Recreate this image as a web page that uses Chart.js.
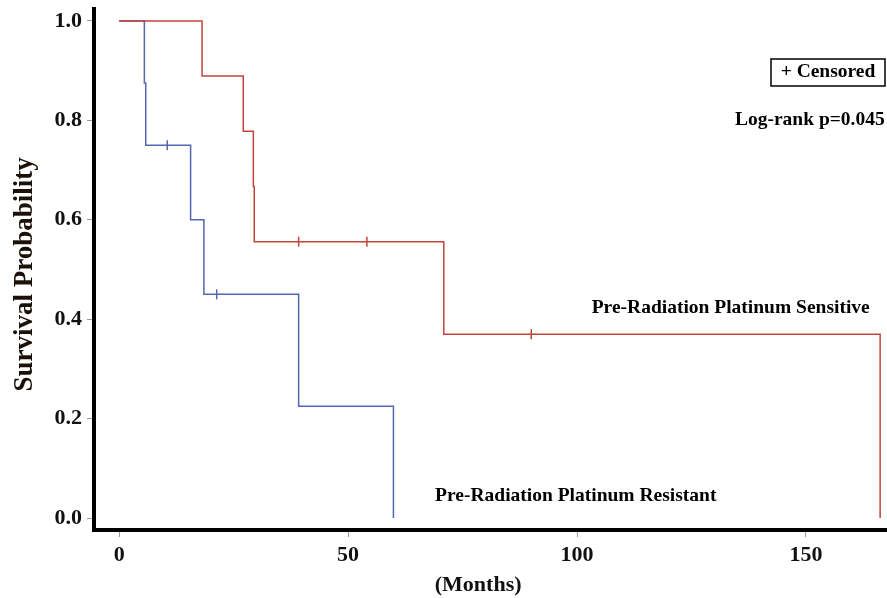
<!DOCTYPE html>
<html>
<head>
<meta charset="utf-8">
<script src="https://cdn.jsdelivr.net/npm/chart.js@4.4.1/dist/chart.umd.min.js"></script>
<style>
  html, body { margin: 0; padding: 0; background: #fff; }
  #wrap { width: 887px; height: 598px; }
</style>
</head>
<body>
<div id="wrap"><canvas id="km" width="887" height="598"></canvas></div>
<script>
// Kaplan-Meier curves (months, survival)
const sensTimes = [0, 18.1, 27.1, 29.3, 29.5, 70.9, 166.2];
const sensSurv = [1, 0.889, 0.778, 0.667, 0.556, 0.370, 0];
const sensCensTimes = [39.2, 54.1, 90.0];
const sensCensSurv = [0.556, 0.556, 0.370];

const resTimes = [0, 5.5, 5.8, 15.6, 18.5, 39.2, 59.9];
const resSurv = [1, 0.875, 0.75, 0.6, 0.45, 0.225, 0];
const resCensTimes = [10.5, 21.3];
const resCensSurv = [0.75, 0.45];

const xTicks = [0, 50, 100, 150];
const yTicks = [0, 0.2, 0.4, 0.6, 0.8, 1.0];

const rojo = "#c1443a";
const azul = "#5466b0";
const serif = "'Liberation Serif', 'Times New Roman', serif";

function puntos(xs, ys) {
    return xs.map((x, i) => ({ x: x, y: ys[i] }));
}

// text labels placed in data coordinates
const etiquetas = [
    { text: "Pre-Radiation Platinum Sensitive", x: 103.2, y: 0.412, align: "left" },
    { text: "Pre-Radiation Platinum Resistant", x: 69.0, y: 0.035, align: "left" },
    { text: "Log-rank p=0.045", x: 167.2, y: 0.79, align: "right" }
];

const anotaciones = {
    id: "anotaciones",
    afterDatasetsDraw(chart) {
        const ctx = chart.ctx;
        const sx = chart.scales.x, sy = chart.scales.y;
        ctx.save();
        ctx.fillStyle = "#000";
        ctx.font = "bold 19.5px " + serif;
        ctx.textBaseline = "alphabetic";
        etiquetas.forEach(e => {
            ctx.textAlign = e.align;
            ctx.fillText(e.text, sx.getPixelForValue(e.x), sy.getPixelForValue(e.y));
        });
        // censored key box
        ctx.strokeStyle = "#000";
        ctx.lineWidth = 1.5;
        ctx.strokeRect(771, 59, 114, 27);
        ctx.textAlign = "center";
        ctx.fillText("+ Censored", 828, 77);
        // x axis title, sits a little left of the axis centre
        ctx.fillStyle = "#111";
        ctx.font = "bold 22px " + serif;
        ctx.textBaseline = "middle";
        ctx.fillText("(Months)", sx.getPixelForValue(78.4), 585);
        // y axis title
        ctx.fillStyle = "#1a1208";
        ctx.font = "bold 27px " + serif;
        ctx.translate(25, sy.getPixelForValue(0.49));
        ctx.rotate(-Math.PI / 2);
        ctx.fillText("Survival Probability", 0, 0);
        ctx.restore();
    }
};

new Chart(document.getElementById("km").getContext("2d"), {
    type: "line",
    data: {
        datasets: [
            {
                data: puntos(sensTimes, sensSurv),
                borderColor: rojo,
                borderWidth: 1.5,
                stepped: "before",
                pointRadius: 0,
                fill: false,
                order: 0
            },
            {
                data: puntos(resTimes, resSurv),
                borderColor: azul,
                borderWidth: 1.5,
                stepped: "before",
                pointRadius: 0,
                fill: false,
                order: 1
            },
            {
                data: puntos(sensCensTimes, sensCensSurv),
                showLine: false,
                pointStyle: "line",
                rotation: 90,
                pointRadius: 5,
                borderColor: rojo,
                borderWidth: 1.5,
                order: 0
            },
            {
                data: puntos(resCensTimes, resCensSurv),
                showLine: false,
                pointStyle: "line",
                rotation: 90,
                pointRadius: 5,
                borderColor: azul,
                borderWidth: 1.5,
                order: 1
            }
        ]
    },
    options: {
        responsive: false,
        animation: false,
        layout: { autoPadding: false, padding: { top: 9, right: 0, left: 0, bottom: 0 } },
        plugins: {
            legend: { display: false },
            tooltip: { enabled: false }
        },
        scales: {
            x: {
                type: "linear",
                min: -5.5,
                max: 167.7,
                afterBuildTicks: s => { s.ticks = xTicks.map(v => ({ value: v })); },
                afterFit: s => { s.height = 68; s.paddingLeft = 0; s.paddingRight = 0; },
                border: { display: true, width: 4, color: "#000" },
                grid: { drawOnChartArea: false, drawTicks: true, tickLength: 7, color: "#999", lineWidth: 1 },
                ticks: {
                    color: "#111",
                    padding: 5,
                    font: { family: serif, size: 22, weight: "bold" }
                },
                title: { display: false }
            },
            y: {
                type: "linear",
                min: -0.024,
                max: 1.024,
                afterBuildTicks: s => { s.ticks = yTicks.map(v => ({ value: v })); },
                afterFit: s => { s.width = 94; s.paddingTop = 0; s.paddingBottom = 0; },
                border: { display: true, width: 4, color: "#000" },
                grid: { drawOnChartArea: false, drawTicks: true, tickLength: 7, color: "#999", lineWidth: 1 },
                ticks: {
                    color: "#111",
                    padding: 5,
                    font: { family: serif, size: 22, weight: "bold" },
                    callback: v => v.toFixed(1)
                },
                title: { display: false }
            }
        }
    },
    plugins: [anotaciones]
});
</script>
</body>
</html>
